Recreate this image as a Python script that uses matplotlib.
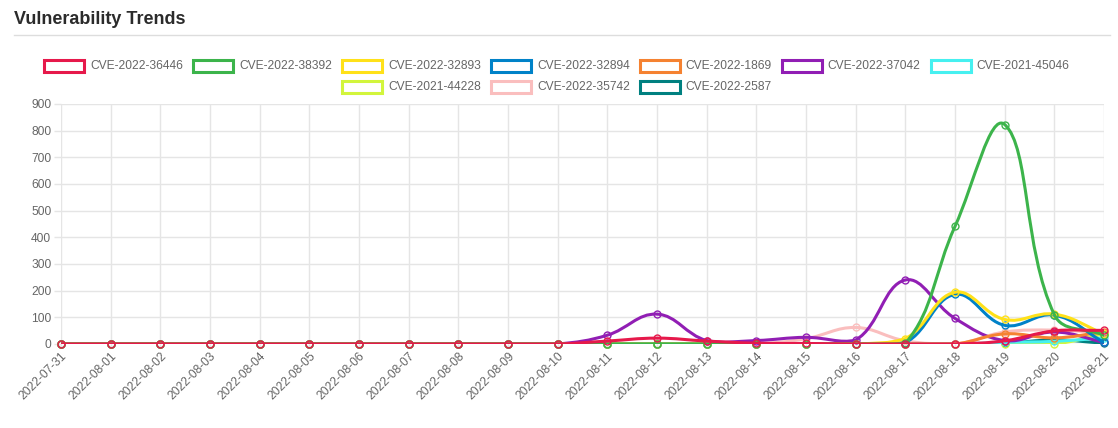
import numpy as np
import matplotlib
matplotlib.use('agg')
import matplotlib.pyplot as plt
from matplotlib.path import Path
from matplotlib.patches import PathPatch, Rectangle

plt.rcParams['font.family'] = ['Liberation Sans', 'DejaVu Sans']

#%% Data

dates = ['2022-07-31', '2022-08-01', '2022-08-02', '2022-08-03', '2022-08-04',
         '2022-08-05', '2022-08-06', '2022-08-07', '2022-08-08', '2022-08-09',
         '2022-08-10', '2022-08-11', '2022-08-12', '2022-08-13', '2022-08-14',
         '2022-08-15', '2022-08-16', '2022-08-17', '2022-08-18', '2022-08-19',
         '2022-08-20', '2022-08-21']

names = ['CVE-2022-36446', 'CVE-2022-38392', 'CVE-2022-32893', 'CVE-2022-32894',
         'CVE-2022-1869', 'CVE-2022-37042', 'CVE-2021-45046', 'CVE-2021-44228',
         'CVE-2022-35742', 'CVE-2022-2587']

zeros11 = [0] * 11
cve_36446 = zeros11 + [11, 22, 11, 3, 2, 0, 0, 0, 12, 49, 51]
cve_38392 = zeros11 + [0, 0, 0, 0, 0, 0, 2, 441, 823, 110, 33]
cve_32893 = zeros11 + [0, 0, 0, 0, 0, 0, 20, 194, 92, 112, 38]
cve_32894 = zeros11 + [0, 0, 0, 0, 0, 0, 5, 186, 70, 108, 6]
cve_1869 = zeros11 + [0, 0, 0, 0, 0, 0, 0, 0, 38, 23, 45]
cve_37042 = zeros11 + [33, 112, 13, 13, 25, 15, 240, 96, 13, 45, 6]
cve_45046 = zeros11 + [0, 0, 0, 0, 0, 0, 0, 0, 6, 10, 23]
cve_44228 = zeros11 + [0, 0, 0, 0, 0, 0, 0, 0, 0, 0, 38]
cve_35742 = zeros11 + [0, 0, 0, 0, 20, 62, 12, 0, 45, 52, 42]
cve_2587 = zeros11 + [0, 0, 0, 0, 0, 0, 0, 0, 3, 15, 3]

series = [cve_36446, cve_38392, cve_32893, cve_32894, cve_1869,
          cve_37042, cve_45046, cve_44228, cve_35742, cve_2587]

colors = ['#e6194b', '#3cb44b', '#ffe119', '#0082c8', '#f58231',
          '#911eb4', '#46f0f0', '#d2f53c', '#fabebe', '#008080']

y_ticks = [0, 100, 200, 300, 400, 500, 600, 700, 800, 900]

#%% Figure

W, H = 1118, 428
fig = plt.figure(figsize=(W / 100, H / 100), dpi=100)
fig.patch.set_facecolor('white')


def fx(px):
    return px / W


def fy(py):
    # py measured from the top
    return 1 - py / H


left, right, top, bottom = 61, 1104, 104, 344
ax = fig.add_axes([fx(left), fy(bottom), fx(right - left), (bottom - top) / H])
ax.set_xlim(0, len(dates) - 1)
ax.set_ylim(0, 900)
for s in ax.spines.values():
    s.set_visible(False)

grid_c = '#e5e5e5'
text_c = '#666666'
fs = 8.64  # 12px

ax.set_xticks(range(len(dates)))
ax.set_yticks(y_ticks)
ax.set_xticklabels(dates, rotation=45, ha='right', va='top',
                   rotation_mode='anchor', color=text_c, fontsize=fs)
ax.set_yticklabels([str(v) for v in y_ticks], color=text_c, fontsize=fs)
ax.tick_params(axis='y', length=5, width=1, color=grid_c, pad=2)
ax.tick_params(axis='x', length=3, width=1, color=grid_c, pad=1.5)
ax.grid(True, color=grid_c, linewidth=1)
ax.set_axisbelow(True)


def chartjs_curve(xs, ys, tension=0.4):
    # same spline as Chart.js (pixel space, control points capped to area)
    pts = ax.transData.transform(np.column_stack([xs, ys]).astype(float))
    x0, y0 = ax.transData.transform((0, 0))
    x1, y1 = ax.transData.transform((len(dates) - 1, 900))
    n = len(pts)
    cp_prev, cp_next = [], []
    for i in range(n):
        prev = pts[max(i - 1, 0)]
        cur = pts[i]
        nxt = pts[min(i + 1, n - 1)]
        d01 = np.hypot(*(cur - prev))
        d12 = np.hypot(*(nxt - cur))
        tot = d01 + d12
        s01 = d01 / tot if tot else 0
        s12 = d12 / tot if tot else 0
        a = cur - tension * s01 * (nxt - prev)
        b = cur + tension * s12 * (nxt - prev)
        a = [min(max(a[0], x0), x1), min(max(a[1], y0), y1)]
        b = [min(max(b[0], x0), x1), min(max(b[1], y0), y1)]
        cp_prev.append(a)
        cp_next.append(b)
    verts = [pts[0]]
    codes = [Path.MOVETO]
    for i in range(1, n):
        verts += [cp_next[i - 1], cp_prev[i], pts[i]]
        codes += [Path.CURVE4] * 3
    verts = ax.transData.inverted().transform(np.array(verts))
    return Path(verts, codes)


x = np.arange(len(dates))
for i, (ys, c) in enumerate(zip(series, colors)):
    z = 20 - i
    ax.add_patch(PathPatch(chartjs_curve(x, ys), facecolor='none',
                           edgecolor=c, linewidth=2.2, zorder=z,
                           capstyle='round', joinstyle='round'))
    ax.plot(x, ys, linestyle='none', marker='o', markersize=5,
            markerfacecolor='none', markeredgecolor=c, markeredgewidth=1,
            zorder=z, clip_on=False)

#%% Title and rule

fig.text(fx(14), fy(19), 'Vulnerability Trends', fontsize=13, fontweight='bold',
         color='#2b2b2b', ha='left', va='center')
fig.add_artist(plt.Line2D([fx(14), fx(1110)], [fy(34.5), fy(34.5)],
                          color='#dddddd', linewidth=1))

#%% Legend (Chart.js style, two centred rows)

renderer = fig.canvas.get_renderer()
rows = [list(range(7)), list(range(7, 10))]
row_y = [66, 87]
box_w, box_h, pad = 40, 12, 10
center = 557
for row, ry in zip(rows, row_y):
    widths = []
    for i in row:
        t = fig.text(0, 0, names[i], fontsize=fs)
        widths.append(t.get_window_extent(renderer).width)
        t.remove()
    items = [box_w + 6 + w for w in widths]
    total = sum(items) + pad * (len(items) - 1)
    cx = center - total / 2
    for i, item_w in zip(row, items):
        fig.add_artist(Rectangle((fx(cx), fy(ry + box_h / 2)), box_w / W, box_h / H,
                                 transform=fig.transFigure, facecolor='white',
                                 edgecolor=colors[i], linewidth=2.2))
        fig.text(fx(cx + box_w + 6), fy(ry), names[i], fontsize=fs,
                 color=text_c, ha='left', va='center')
        cx += item_w + pad

fig.savefig('out.png', dpi=100)
